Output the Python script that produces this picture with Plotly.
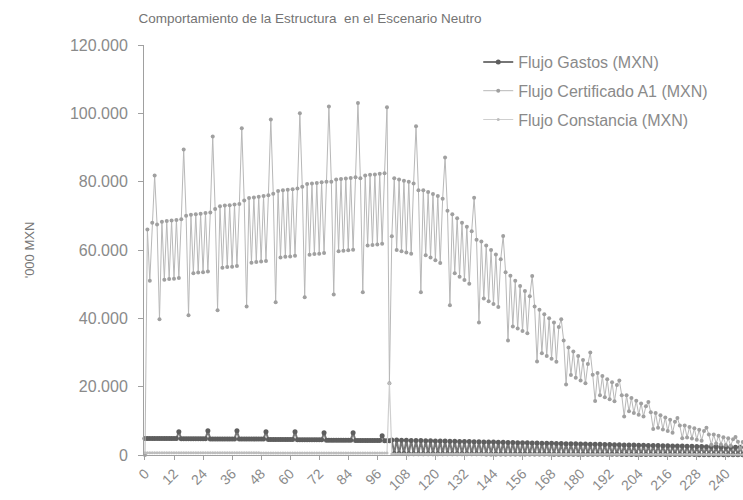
import plotly.graph_objects as go

flujo_gastos = [
    4800, 4800, 4800, 4800, 4800, 4800, 4800, 4800, 4800, 4800, 4800, 4800,
    4800, 4800, 6800, 4750, 4750, 4750, 4750, 4750, 4750, 4750, 4750, 4750,
    4750, 4750, 7100, 4700, 4700, 4700, 4700, 4700, 4700, 4700, 4700, 4700,
    4700, 4700, 7100, 4650, 4650, 4650, 4650, 4650, 4650, 4650, 4650, 4650,
    4650, 4650, 6800, 4550, 4550, 4550, 4550, 4550, 4550, 4550, 4550, 4550,
    4550, 4550, 6800, 4450, 4450, 4450, 4450, 4450, 4450, 4450, 4450, 4450,
    4450, 4450, 6500, 4350, 4350, 4350, 4350, 4350, 4350, 4350, 4350, 4350,
    4350, 4350, 6500, 4250, 4250, 4250, 4250, 4250, 4250, 4250, 4250, 4250,
    4250, 4250, 5600, 4150, 4150, 4150, 4400, 420, 4370, 410, 4340, 410,
    4310, 400, 4280, 400, 4250, 390, 4220, 390, 4190, 380, 4160, 380,
    4130, 370, 4100, 370, 4070, 360, 4040, 360, 4010, 350, 3980, 350,
    3950, 340, 3920, 340, 3890, 330, 3860, 330, 3830, 320, 3800, 320,
    3770, 310, 3740, 310, 3710, 300, 3680, 300, 3650, 290, 3620, 290,
    3590, 280, 3560, 280, 3530, 270, 3500, 270, 3470, 260, 3440, 260,
    3410, 250, 3380, 250, 3350, 240, 3320, 240, 3290, 230, 3260, 230,
    3230, 220, 3200, 220, 3170, 210, 3140, 210, 3110, 200, 3080, 200,
    3050, 190, 3020, 190, 2990, 180, 2960, 180, 2930, 170, 2900, 170,
    2870, 160, 2840, 160, 2810, 150, 2780, 150, 2750, 140, 2720, 140,
    2690, 130, 2660, 130, 2630, 120, 2600, 120, 2570, 110, 2540, 110,
    2510, 100, 2480, 100, 2450, 90, 2420, 90, 2390, 80, 2360, 80,
    2330, 70, 2300, 70, 2270, 60, 2240, 60,
]

flujo_certificado = [
    0, 66000, 51000, 68000, 81800, 67500, 39700, 68300, 51300, 68500, 51500, 68600,
    51600, 68800, 51800, 69000, 89400, 70000, 40900, 70300, 53200, 70500, 53400, 70600,
    53500, 70800, 53700, 71000, 93200, 72000, 42400, 72800, 54800, 73000, 55000, 73100,
    55100, 73300, 55300, 73500, 95600, 74500, 43500, 75200, 56300, 75400, 56500, 75600,
    56600, 75800, 56800, 76000, 98200, 76500, 44700, 77300, 57800, 77500, 58000, 77600,
    58100, 77800, 58300, 78000, 100000, 78500, 46200, 79300, 58600, 79500, 58800, 79600,
    58900, 79800, 59100, 80000, 102000, 80000, 47000, 80600, 59600, 80800, 59800, 80900,
    59900, 81100, 60100, 81300, 103000, 81000, 47600, 81800, 61300, 82000, 61500, 82100,
    61600, 82300, 61800, 82500, 101800, 21000, 64000, 81000, 60000, 80600, 59600, 80300,
    59300, 80000, 58900, 79500, 96200, 77500, 47600, 77500, 58500, 77000, 57800, 76400,
    57000, 75800, 56200, 75000, 87100, 71500, 43800, 70500, 53200, 69300, 52200, 68000,
    51200, 66800, 50100, 65500, 75300, 63000, 38800, 62500, 45800, 61300, 45000, 60000,
    44200, 58700, 43300, 57300, 64100, 53500, 33500, 52500, 37600, 51000, 37000, 49500,
    36300, 48000, 35600, 46500, 52400, 43500, 27400, 42500, 29800, 41200, 29000, 40000,
    28200, 38800, 27300, 37500, 39700, 33500, 20600, 31500, 23400, 30300, 22600, 29000,
    21800, 27800, 21000, 26600, 30000, 23500, 15800, 24000, 17500, 23100, 16900, 22200,
    16300, 21300, 15700, 20500, 21800, 17500, 11300, 17500, 12800, 16700, 12300, 15900,
    11800, 15100, 11300, 14300, 15500, 12500, 7600, 12300, 8000, 11600, 7500, 11000,
    7000, 10300, 6500, 9700, 10800, 8600, 4900, 8600, 5100, 8200, 4800, 7800,
    4500, 7400, 4200, 7000, 8000, 6000, 3000, 6000, 3400, 5600, 3100, 5200,
    2900, 4900, 2700, 4600, 5300, 3900, 1900, 3800,
]

flujo_constancia = [
    650, 650, 650, 650, 650, 650, 650, 650, 650, 650, 650, 650,
    645, 645, 645, 645, 645, 645, 645, 645, 645, 645, 645, 645,
    640, 640, 640, 640, 640, 640, 640, 640, 640, 640, 640, 640,
    630, 630, 630, 630, 630, 630, 630, 630, 630, 630, 630, 630,
    620, 620, 620, 620, 620, 620, 620, 620, 620, 620, 620, 620,
    610, 610, 610, 610, 610, 610, 610, 610, 610, 610, 610, 610,
    600, 600, 600, 600, 600, 600, 600, 600, 600, 600, 600, 600,
    590, 590, 590, 590, 590, 590, 590, 590, 590, 590, 590, 590,
    580, 580, 580, 580, 580, 21000, 300, 300, 300, 300, 300, 300,
    290, 290, 290, 290, 290, 290, 290, 290, 290, 290, 290, 290,
    280, 280, 280, 280, 280, 280, 280, 280, 280, 280, 280, 280,
    260, 260, 260, 260, 260, 260, 260, 260, 260, 260, 260, 260,
    240, 240, 240, 240, 240, 240, 240, 240, 240, 240, 240, 240,
    220, 220, 220, 220, 220, 220, 220, 220, 220, 220, 220, 220,
    200, 200, 200, 200, 200, 200, 200, 200, 200, 200, 200, 200,
    180, 180, 180, 180, 180, 180, 180, 180, 180, 180, 180, 180,
    160, 160, 160, 160, 160, 160, 160, 160, 160, 160, 160, 160,
    150, 150, 150, 150, 150, 150, 150, 150, 150, 150, 150, 150,
    130, 130, 130, 130, 130, 130, 130, 130, 130, 130, 130, 130,
    120, 120, 120, 120, 120, 120, 120, 120, 120, 120, 120, 120,
    100, 100, 100, 100, 100, 100, 100, 100,
]

meses = list(range(len(flujo_certificado)))

y_tick_vals = [0, 20000, 40000, 60000, 80000, 100000, 120000]
y_tick_text = ["0", "20.000", "40.000", "60.000", "80.000", "100.000", "120.000"]
x_tick_vals = [0, 12, 24, 36, 48, 60, 72, 84, 96, 108, 120, 132, 144, 156, 168,
               180, 192, 204, 216, 228, 240]

FONT = "Liberation Sans, Arial, sans-serif"
TXT = "#8a8a8a"

fig = go.Figure()
fig.add_trace(go.Scatter(
    x=meses, y=flujo_gastos, name="Flujo Gastos (MXN)", mode="lines+markers",
    line=dict(color="#767676", width=2),
    marker=dict(size=5, color="#5e5e5e"), cliponaxis=False, legendgroup="g1"))
fig.add_trace(go.Scatter(
    x=meses, y=flujo_certificado, name="Flujo Certificado A1 (MXN)", mode="lines+markers",
    line=dict(color="#b8b8b8", width=1),
    marker=dict(size=4, color="#a0a0a0"), cliponaxis=False, legendgroup="g2"))
fig.add_trace(go.Scatter(
    x=meses, y=flujo_constancia, name="Flujo Constancia (MXN)", mode="lines+markers",
    line=dict(color="#cfcfcf", width=1.2),
    marker=dict(size=3, color="#bdbdbd"), cliponaxis=False, legendgroup="g3"))

fig.update_layout(
    width=743, height=500,
    paper_bgcolor="white", plot_bgcolor="white",
    margin=dict(l=144, r=0, t=45, b=45, autoexpand=False),
    font=dict(family=FONT, color=TXT, size=13),
    title=dict(text="Comportamiento de la Estructura  en el Escenario Neutro",
               x=310 / 743, xanchor="center", y=1 - 18 / 500, yanchor="middle",
               font=dict(size=13.5, color="#747474", family=FONT)),
    showlegend=True,
    legend=dict(x=0.558, y=1.0, xanchor="left", yanchor="top",
                bgcolor="rgba(0,0,0,0)", font=dict(size=16, color=TXT),
                tracegroupgap=5, itemwidth=30),
    xaxis=dict(range=[-0.4, 247.1], tickvals=x_tick_vals, tickangle=-45,
               showgrid=False, zeroline=False, showline=True, linecolor="#a0a0a0",
               linewidth=1, ticks="outside", ticklen=4, tickcolor="#a0a0a0",
               tickfont=dict(size=14, color=TXT), automargin=False),
    yaxis=dict(range=[0, 120000], tickvals=y_tick_vals, ticktext=y_tick_text,
               showgrid=False, zeroline=False, showline=True, linecolor="#a0a0a0",
               linewidth=1, ticks="outside", ticklen=5, tickcolor="#a0a0a0",
               tickfont=dict(size=16, color=TXT), ticklabelstandoff=7,
               automargin=False,
               title=dict(text="'000 MXN", font=dict(size=13, color="#777777"),
                          standoff=32)),
)

fig.write_html("out.html", config={"displayModeBar": False},
               post_script="document.body.style.margin='0px';")
